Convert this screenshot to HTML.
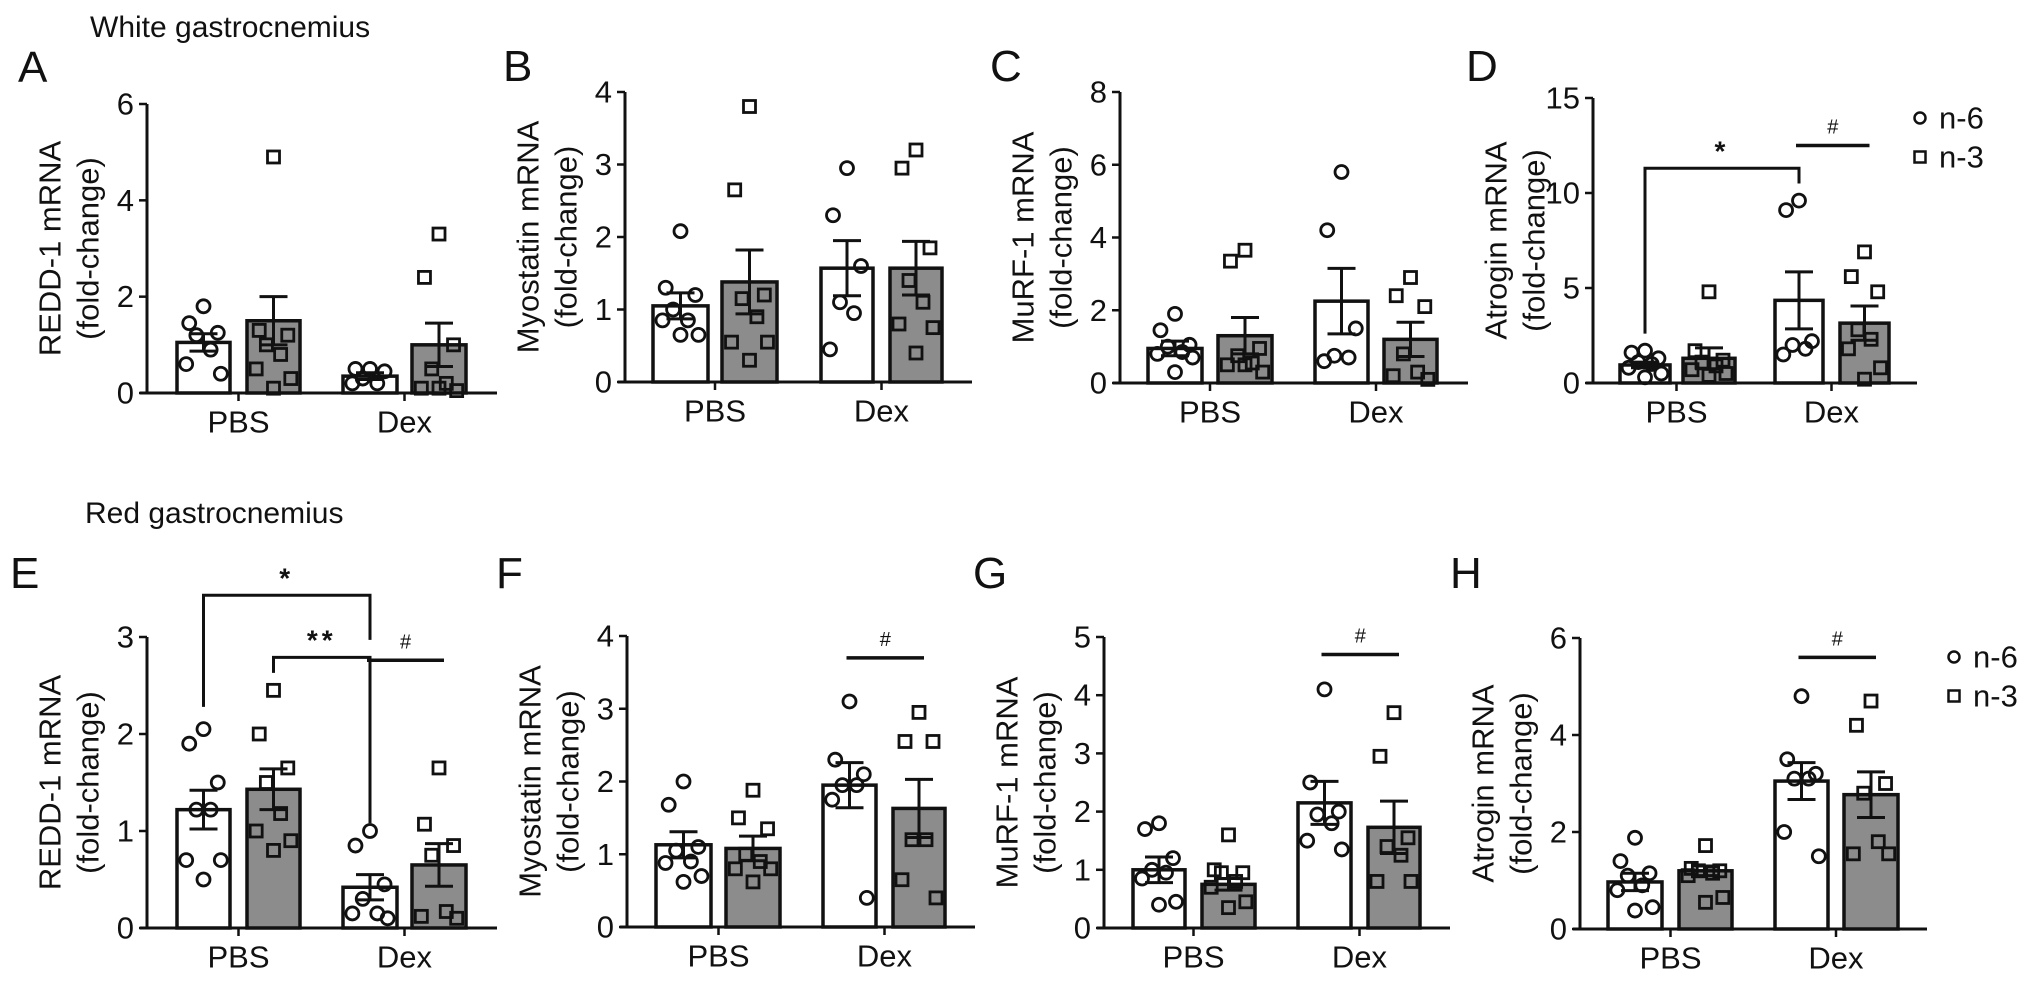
<!DOCTYPE html>
<html><head><meta charset="utf-8">
<style>
html,body{margin:0;padding:0;background:#fff;}
svg{display:block;font-family:"Liberation Sans",Arial,sans-serif;}
</style></head>
<body>
<svg id="fig" width="2032" height="985" viewBox="0 0 2032 985" xmlns="http://www.w3.org/2000/svg">
<text x="90" y="37" font-size="30" fill="#111">White gastrocnemius</text>
<text x="85" y="523" font-size="30" fill="#111">Red gastrocnemius</text>
</svg>
<script>
// ---- data (order: PBS n-6, PBS n-3, Dex n-6, Dex n-3) ----
const categories = ["PBS", "Dex"];
const seriesNames = ["n-6", "n-3"];

const aTicks = [0, 2, 4, 6];
const aMeans = [1.05, 1.5, 0.35, 1.0];
const aSems = [0.18, 0.5, 0.07, 0.45];
const aPts = [[1.8,1.45,1.25,1.2,0.9,0.6,0.4],[4.9,1.3,1.2,1.0,0.8,0.5,0.3,0.1],[0.5,0.5,0.45,0.3,0.2,0.2],[3.3,2.4,1.0,0.5,0.2,0.1,0.05,0.1]];

const bTicks = [0, 1, 2, 3, 4];
const bMeans = [1.05, 1.38, 1.57, 1.57];
const bSems = [0.18, 0.44, 0.38, 0.37];
const bPts = [[2.08,1.3,1.2,1.0,0.85,0.85,0.65,0.65],[3.8,2.65,1.2,1.15,0.9,0.55,0.55,0.3],[2.95,2.3,1.6,1.1,0.95,0.45],[3.2,2.95,1.85,1.4,1.1,0.8,0.75,0.4]];

const cTicks = [0, 2, 4, 6, 8];
const cMeans = [0.95, 1.3, 2.25, 1.2];
const cSems = [0.2, 0.5, 0.9, 0.47];
const cPts = [[1.9,1.45,1.05,1.0,0.85,0.8,0.7,0.3],[3.65,3.35,0.95,0.75,0.55,0.5,0.3,0.5],[5.8,4.2,1.5,0.75,0.7,0.6],[2.9,2.4,2.1,0.8,0.3,0.2,0.1]];

const dTicks = [0, 5, 10, 15];
const dMeans = [0.95, 1.3, 4.35, 3.15];
const dSems = [0.15, 0.55, 1.5, 0.9];
const dPts = [[1.7,1.6,1.3,1.1,1.0,0.8,0.5,0.3],[4.8,1.7,1.2,1.1,0.9,0.7,0.5,0.4],[9.6,9.1,2.2,2.0,1.8,1.5],[6.9,5.6,4.8,2.8,2.3,1.8,0.8,0.2]];

const eTicks = [0, 1, 2, 3];
const eMeans = [1.22, 1.43, 0.42, 0.65];
const eSems = [0.2, 0.21, 0.13, 0.22];
const ePts = [[2.05,1.9,1.5,1.22,1.22,0.7,0.7,0.5],[2.45,2.0,1.65,1.5,1.18,1.0,0.9,0.8],[1.0,0.85,0.45,0.3,0.15,0.15,0.1],[1.65,1.07,0.85,0.75,0.17,0.12,0.1]];

const fTicks = [0, 1, 2, 3, 4];
const fMeans = [1.13, 1.08, 1.95, 1.63];
const fSems = [0.18, 0.17, 0.31, 0.4];
const fPts = [[2.0,1.68,1.1,1.05,0.9,0.88,0.7,0.62],[1.88,1.5,1.35,1.0,0.9,0.8,0.8,0.62],[3.1,2.3,2.1,1.95,1.95,1.75,0.4],[2.95,2.55,2.55,1.2,1.2,0.65,0.4]];

const gTicks = [0, 1, 2, 3, 4, 5];
const gMeans = [1.0, 0.75, 2.15, 1.73];
const gSems = [0.22, 0.1, 0.37, 0.45];
const gPts = [[1.8,1.7,1.2,1.0,0.95,0.85,0.45,0.4],[1.6,1.0,0.95,0.95,0.8,0.7,0.45,0.35],[4.1,2.5,2.0,1.95,1.8,1.5,1.35],[3.7,2.95,1.55,1.4,1.25,0.8,0.8]];

const hTicks = [0, 2, 4, 6];
const hMeans = [0.97, 1.2, 3.05, 2.77];
const hSems = [0.18, 0.1, 0.38, 0.47];
const hPts = [[1.88,1.4,1.15,1.1,0.9,0.8,0.45,0.38],[1.72,1.25,1.2,1.2,1.15,1.1,0.65,0.55],[4.8,3.5,3.2,3.1,3.1,2.0,1.5],[4.7,4.2,3.0,2.8,1.8,1.55,1.55]];

// significance annotations (values in data units)
const dStarBracket = [11.3, 2.6, 10.5];   // top, left leg end, right leg end
const dHashLine = [12.5];
const eStarBracket = [3.43, 2.28, 2.97];
const eDoubleStarBracket = [2.79, 2.63, 1.08];
const eHashLine = [2.76];
const fHashLine = [3.7];
const gHashLine = [4.7];
const hHashLine = [5.6];

// ---- layout ----
const NS = "http://www.w3.org/2000/svg";
const svg = document.getElementById("fig");
function mk(tag, attrs, parent) {
  const e = document.createElementNS(NS, tag);
  for (const k in attrs) e.setAttribute(k, attrs[k]);
  (parent || svg).appendChild(e);
  return e;
}
const jitter = [0, -14, 14, -7, 7, -17, 17, 0];

function drawPanel(key, letter, lx, ly, ylab, axX, y0, yTop, xEnd, bars, ticks, means, sems, pts) {
  const g = mk("g", {});
  
  
  const yMax = ticks[ticks.length - 1];
  const Y = v => y0 - v * (y0 - yTop) / yMax;
  const lt = mk("text", {x: lx, y: ly, "font-size": 44, fill: "#111"}, g);
  lt.textContent = letter;
  
  
  const yc = (y0 + yTop) / 2;
  [[ylab, axX - 97], ["(fold-change)", axX - 59]].forEach((p, i) => {
    const t = mk("text", {x: p[1], y: yc, "font-size": 31, fill: "#111", "text-anchor": "middle", "dominant-baseline": "central", transform: `rotate(-90 ${p[1]} ${yc})`}, g);
    t.textContent = p[0];
    
    
  });
  // axes
  const ya = mk("line", {x1: axX, y1: yTop, x2: axX, y2: y0, stroke: "#111", "stroke-width": 3}, g);
  
  
  ticks.forEach(t => {
    const tl = mk("line", {x1: axX - 8, y1: Y(t), x2: axX, y2: Y(t), stroke: "#111", "stroke-width": 2.5}, g);
    
    
    const tx = mk("text", {x: axX - 13, y: Y(t), "font-size": 31, fill: "#111", "text-anchor": "end", "dominant-baseline": "central"}, g);
    tx.textContent = t;
    
    
  });
  // bars
  const centers = bars.map(b => (b[0] + b[1]) / 2);
  means.forEach((m, i) => {
    const b = bars[i];
    const r = mk("rect", {x: b[0], y: Y(m), width: b[1] - b[0], height: y0 - Y(m), fill: i % 2 ? "#8c8c8c" : "#fff", stroke: "#111", "stroke-width": 3.5}, g);
    
    
  });
  // points
  pts.forEach((arr, i) => {
    arr.forEach((v, j) => {
      const cx = centers[i] + jitter[j % jitter.length] * (b => (b[1] - b[0]) / 52)(bars[i]);
      let p;
      if (i % 2 === 0) {
        p = mk("circle", {cx: cx, cy: Y(v), r: 6.5, fill: "none", stroke: "#111", "stroke-width": 2.8}, g);
      } else {
        p = mk("rect", {x: cx - 6, y: Y(v) - 6, width: 12, height: 12, fill: "none", stroke: "#111", "stroke-width": 2.8}, g);
      }
      
      
    });
  });
  // error bars
  means.forEach((m, i) => {
    const c = centers[i], hi = Y(m + sems[i]), lo = Y(m - sems[i]);
    const e = mk("path", {d: `M${c},${lo}V${hi}M${c - 14},${hi}H${c + 14}M${c - 14},${lo}H${c + 14}`, stroke: "#111", "stroke-width": 3, fill: "none"}, g);
    
    
  });
  const xa = mk("line", {x1: axX - 7, y1: y0, x2: xEnd, y2: y0, stroke: "#111", "stroke-width": 3}, g);
  
  
  categories.forEach((cName, k) => {
    const cx = (bars[2 * k][1] + bars[2 * k + 1][0]) / 2;
    const tk = mk("line", {x1: cx, y1: y0, x2: cx, y2: y0 + 8, stroke: "#111", "stroke-width": 2.5}, g);
    
    
    const t = mk("text", {x: cx, y: y0 + 29, "font-size": 31, fill: "#111", "text-anchor": "middle", "dominant-baseline": "central"}, g);
    t.textContent = cName;
    
    
  });
  return {g, Y, centers};
}

function bracket(P, iL, iR, vals, label, name) {
  const xL = P.centers[iL], xR = P.centers[iR];
  const p = mk("path", {d: `M${xL},${P.Y(vals[1])}V${P.Y(vals[0])}H${xR}V${P.Y(vals[2])}`, stroke: "#111", "stroke-width": 3, fill: "none"}, P.g);
  
  
  const t = mk("text", {x: (xL + xR) / 2, y: P.Y(vals[0]) - 8, "font-size": 28, "font-weight": "bold", fill: "#111", "text-anchor": "middle", "letter-spacing": 4}, P.g);
  t.textContent = label;
  
  
}
function hashLine(P, val) {
  const xL = P.centers[2] - 3, xR = P.centers[3] + 5;
  const l = mk("line", {x1: xL, y1: P.Y(val[0]), x2: xR, y2: P.Y(val[0]), stroke: "#111", "stroke-width": 3.5}, P.g);
  
  
  const t = mk("text", {x: (xL + xR) / 2, y: P.Y(val[0]) - 12, "font-size": 20, fill: "#111", "text-anchor": "middle"}, P.g);
  t.textContent = "#";
  
  
}
function legend(x, y) {
  const g = mk("g", {});
  
  
  const c = mk("circle", {cx: x, cy: y, r: 5.5, fill: "none", stroke: "#111", "stroke-width": 2.5}, g);
  
  
  const s = mk("rect", {x: x - 5.5, y: y + 39 - 5.5, width: 11, height: 11, fill: "none", stroke: "#111", "stroke-width": 2.5}, g);
  
  
  [["n-6", y], ["n-3", y + 39]].forEach(a => {
    const t = mk("text", {x: x + 19, y: a[1], "font-size": 31, fill: "#111", "dominant-baseline": "central"}, g);
    t.textContent = a[0];
    
    
  });
}

const barsAE = [[177,230],[247,300],[343,397],[412,466]];
drawPanel("a", "A", 18, 82, "REDD-1 mRNA", 147, 393, 104, 497, barsAE, aTicks, aMeans, aSems, aPts);
drawPanel("b", "B", 503, 81, "Myostatin mRNA", 625, 382, 92, 972, [[653,708],[722,777],[821,873],[890,942]], bTicks, bMeans, bSems, bPts);
drawPanel("c", "C", 990, 81, "MuRF-1 mRNA", 1120, 383, 92, 1468, [[1148,1202],[1218,1272],[1315,1368],[1384,1437]], cTicks, cMeans, cSems, cPts);
const PD = drawPanel("d", "D", 1466, 81, "Atrogin mRNA", 1593, 383, 98, 1917, [[1620,1670],[1683,1735],[1775,1823],[1840,1889]], dTicks, dMeans, dSems, dPts);
bracket(PD, 0, 2, dStarBracket, "*", "significance-bracket-star");
hashLine(PD, dHashLine);
legend(1920, 118);

const PE = drawPanel("e", "E", 10, 588, "REDD-1 mRNA", 147, 928, 637, 497, barsAE, eTicks, eMeans, eSems, ePts);
bracket(PE, 0, 2, eStarBracket, "*", "significance-bracket-star");
bracket(PE, 1, 2, eDoubleStarBracket, "**", "significance-bracket-double-star");
hashLine(PE, eHashLine);
const PF = drawPanel("f", "F", 496, 588, "Myostatin mRNA", 627, 927, 636, 975, [[656,711],[726,780],[823,876],[893,945]], fTicks, fMeans, fSems, fPts);
hashLine(PF, fHashLine);
const PG = drawPanel("g", "G", 973, 588, "MuRF-1 mRNA", 1104, 928, 637, 1450, [[1133,1185],[1202,1255],[1298,1351],[1368,1420]], gTicks, gMeans, gSems, gPts);
hashLine(PG, gHashLine);
const PH = drawPanel("h", "H", 1450, 588, "Atrogin mRNA", 1580, 929, 638, 1927, [[1608,1662],[1679,1732],[1775,1828],[1844,1898]], hTicks, hMeans, hSems, hPts);
hashLine(PH, hHashLine);
legend(1954, 657);
</script>
</body></html>
